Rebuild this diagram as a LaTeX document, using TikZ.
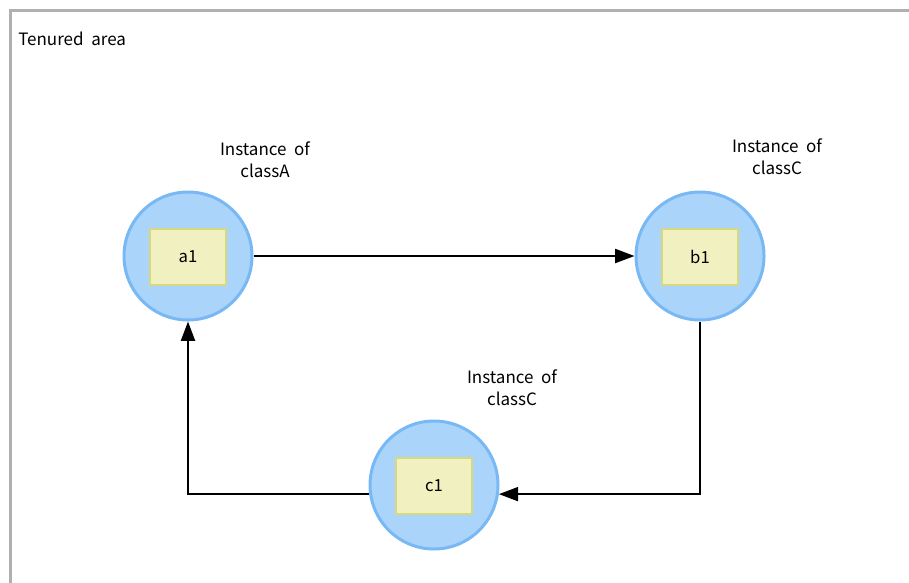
\documentclass[tikz,border=0pt]{standalone}
\usepackage{fontspec}
\setmainfont{Noto Sans CJK JP}
\usetikzlibrary{arrows.meta}
\definecolor{circfill}{HTML}{AAD4FA}
\definecolor{circline}{HTML}{78B9F5}
\definecolor{boxfill}{HTML}{F0F0C0}
\definecolor{boxline}{HTML}{D8D880}
\definecolor{frame}{HTML}{B0B0B0}
\tikzset{
  objcirc/.style={circle, draw=circline, fill=circfill, line width=2.25pt, minimum size=96pt, inner sep=0pt},
  objbox/.style={rectangle, draw=boxline, fill=boxfill, line width=1.5pt, minimum width=57pt, minimum height=42pt, inner sep=0pt, font=\fontsize{12.5pt}{14pt}\selectfont},
  lbl/.style={align=center, font=\fontsize{12.75pt}{16.5pt}\selectfont},
  conn/.style={line width=1.5pt, -{Triangle[length=14.5pt,width=10.5pt]}}
}
\begin{document}
\begin{tikzpicture}[x=0.75pt,y=-0.75pt]
\useasboundingbox (0,0) rectangle (909,582);
\draw[frame, line width=2.25pt] (10,590) -- (10,10) -- (920,10);
\node[anchor=west, inner sep=0pt, font=\fontsize{12.75pt}{14pt}\selectfont] (title) at (18,39) {Tenured\ \ area};
\node[objcirc] (a) at (188,256) {};
\node[objbox] (a1) at (188,257) {a1};
\node[objcirc] (b) at (700,256) {};
\node[objbox] (b1) at (700,257) {b1};
\node[objcirc] (c) at (434,485) {};
\node[objbox] (c1) at (434,486) {c1};
\node[lbl] (la) at (265,160) {Instance\ \ of\\classA};
\node[lbl] (lb) at (777,157) {Instance\ \ of\\classC};
\node[lbl] (lc) at (512,388) {Instance\ \ of\\classC};
\draw[conn] (a) -- (b);
\draw[conn] (b.south) |- (c.-8);
\draw[conn] (c.188) -| (a.south);
\end{tikzpicture}
\end{document}
